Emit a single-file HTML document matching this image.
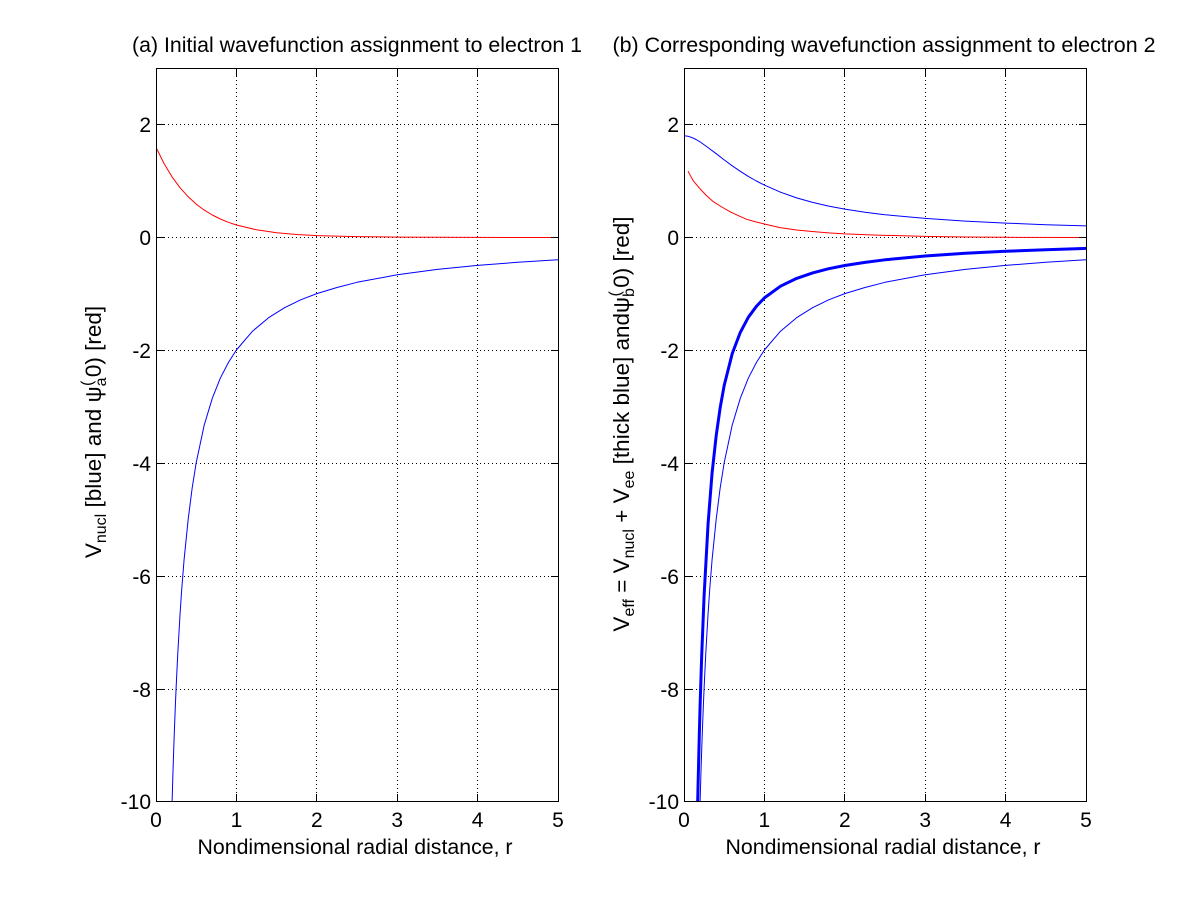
<!DOCTYPE html>
<html>
<head>
<meta charset="utf-8">
<style>
  html, body { margin:0; padding:0; background:#ffffff; }
  svg { display:block; }
  text { font-family: "Liberation Sans", Arial, sans-serif; fill:#000; }
</style>
</head>
<body>
<svg width="1200" height="900" viewBox="0 0 1200 900" xmlns="http://www.w3.org/2000/svg">
  <defs>
    <clipPath id="cl"><rect x="156" y="68" width="403" height="734"/></clipPath>
    <clipPath id="cr"><rect x="684" y="68" width="403" height="734"/></clipPath>
  </defs>
  <rect width="1200" height="900" fill="#ffffff"/>

  <!-- ================= LEFT AXES ================= -->
  <g shape-rendering="crispEdges" stroke="#000" stroke-width="1" fill="none">
    <path stroke-dasharray="1,3" d="M236.5,68 V801 M316.5,68 V801 M397.5,68 V801 M477.5,68 V801
      M156,124.5 H558 M156,237.5 H558 M156,350.5 H558 M156,463.5 H558 M156,576.5 H558 M156,689.5 H558"/>
  </g>

  <g clip-path="url(#cl)" fill="none" stroke-linejoin="round">
    <polyline stroke="#ff0000" stroke-width="1" points="156,147.2 164,163.5 172.1,176.9 180.1,187.8 188.2,196.8 196.2,204.1 204.2,210.1 212.3,215.0 220.3,219.0 228.4,222.3 236.4,225.0 256.5,229.8 276.6,232.7 296.7,234.5 316.8,235.6 357,236.6 397.2,237.1 477.6,237.4 558,237.5"/>
    <polyline stroke="#0000ff" stroke-width="1" points="172.1,802 172.9,774.2 173.7,749.7 174.5,727.5 175.3,707.0 176.1,688.2 177.7,654.8 180.1,613.1 181.7,589.6 184.1,559.4 188.2,519.1 192.2,487.8 196.2,462.7 204.2,425.1 212.3,398.3 220.3,378.2 228.4,362.5 236.4,350.0 252.5,331.2 268.6,317.7 284.6,307.7 300.7,299.8 316.8,293.6 337,287.5 357,282.3 397.2,274.8 437.4,269.4 477.6,265.4 517.8,262.3 558,259.8"/>
  </g>

  <g shape-rendering="crispEdges" stroke="#000" stroke-width="1" fill="none">
    <rect x="156.5" y="68.5" width="402" height="733"/>
    <path d="M236.5,801 v-7 M316.5,801 v-7 M397.5,801 v-7 M477.5,801 v-7
             M236.5,69 v7 M316.5,69 v7 M397.5,69 v7 M477.5,69 v7
             M157,124.5 h7 M157,237.5 h7 M157,350.5 h7 M157,463.5 h7 M157,576.5 h7 M157,689.5 h7
             M558,124.5 h-7 M558,237.5 h-7 M558,350.5 h-7 M558,463.5 h-7 M558,576.5 h-7 M558,689.5 h-7"/>
  </g>

  <g font-size="21" text-anchor="end">
    <text x="151" y="132">2</text>
    <text x="151" y="245">0</text>
    <text x="151" y="358">-2</text>
    <text x="151" y="471">-4</text>
    <text x="151" y="584">-6</text>
    <text x="151" y="697">-8</text>
    <text x="151" y="809">-10</text>
  </g>
  <g font-size="21" text-anchor="middle">
    <text x="156" y="827">0</text>
    <text x="236.5" y="827">1</text>
    <text x="316.8" y="827">2</text>
    <text x="397.2" y="827">3</text>
    <text x="477.6" y="827">4</text>
    <text x="558" y="827">5</text>
  </g>
  <text x="357" y="52" font-size="21" text-anchor="middle" textLength="450" lengthAdjust="spacingAndGlyphs">(a) Initial wavefunction assignment to electron 1</text>
  <text x="355" y="854" font-size="21" text-anchor="middle" textLength="315" lengthAdjust="spacingAndGlyphs">Nondimensional radial distance, r</text>
  <text transform="translate(101,432) rotate(-90)" font-size="22.5" text-anchor="middle">V<tspan font-size="16" dy="5">nucl</tspan><tspan dy="-5"> [blue] and ψ</tspan><tspan font-size="16" dy="5">a</tspan><tspan font-size="16" dx="-8.5" dy="-14">(</tspan><tspan dx="3.5" dy="9">0) [red]</tspan></text>

  <!-- ================= RIGHT AXES ================= -->
  <g shape-rendering="crispEdges" stroke="#000" stroke-width="1" fill="none">
    <path stroke-dasharray="1,3" d="M764.5,68 V801 M844.5,68 V801 M925.5,68 V801 M1005.5,68 V801
      M684,124.5 H1086 M684,237.5 H1086 M684,350.5 H1086 M684,463.5 H1086 M684,576.5 H1086 M684,689.5 H1086"/>
  </g>

  <g clip-path="url(#cr)" fill="none" stroke-linejoin="round">
    <polyline stroke="#0000ff" stroke-width="1" points="684,135.7 688,136.2 692,137.6 696.1,139.5 700.1,141.9 708.1,147.6 716.2,153.7 724.2,159.9 732.2,165.8 740.3,171.3 748.3,176.4 756.4,181.0 764.4,185.1 780.5,192.2 796.6,197.9 812.6,202.4 828.7,206.1 844.8,209.1 865,212.2 885,214.7 925.2,218.4 965.4,221.1 1005.6,223.1 1045.8,224.7 1086,225.9"/>
    <polyline stroke="#ff0000" stroke-width="1" points="688,171.2 690.4,175.7 693.3,180.8 700.1,188.9 706.5,195.6 713.3,201.7 721.8,207.0 730,211.7 738.7,215.8 746.7,219.3 755.6,221.9 764.4,224.0 780,227.6 796.6,230.0 813.4,231.6 828.7,232.9 844.8,233.9 880.2,235.2 925.2,236.4 965.4,237.0 1005.6,237.3 1086,237.5"/>
    <polyline stroke="#0000ff" stroke-width="1" points="700.1,802 700.9,774.2 701.7,749.7 702.5,727.5 703.3,707.0 704.1,688.2 705.7,654.8 708.1,613.1 709.7,589.6 712.1,559.4 716.2,519.1 720.2,487.8 724.2,462.7 732.2,425.1 740.3,398.3 748.3,378.2 756.4,362.5 764.4,350.0 780.5,331.2 796.6,317.7 812.6,307.7 828.7,299.8 844.8,293.6 865,287.5 885,282.3 925.2,274.8 965.4,269.4 1005.6,265.4 1045.8,262.3 1086,259.8"/>
    <polyline stroke="#0000ff" stroke-width="3" points="697.6,805 698.5,767.3 699.3,734.8 700.1,705.7 701.7,655.5 704.1,595.7 708.1,523.4 712.1,472.8 716.2,435.6 720.2,407.5 724.2,385.4 732.2,353.7 740.3,332.4 748.3,317.3 756.4,306.3 764.4,297.9 780.5,286.2 796.6,278.4 812.6,272.9 828.7,268.7 844.8,265.5 865,262.4 885,259.8 925.2,256.0 965.4,253.3 1005.6,251.3 1045.8,249.7 1088,248.4"/>
  </g>

  <g shape-rendering="crispEdges" stroke="#000" stroke-width="1" fill="none">
    <rect x="684.5" y="68.5" width="402" height="733"/>
    <path d="M764.5,801 v-7 M844.5,801 v-7 M925.5,801 v-7 M1005.5,801 v-7
             M764.5,69 v7 M844.5,69 v7 M925.5,69 v7 M1005.5,69 v7
             M685,124.5 h7 M685,237.5 h7 M685,350.5 h7 M685,463.5 h7 M685,576.5 h7 M685,689.5 h7
             M1086,124.5 h-7 M1086,237.5 h-7 M1086,350.5 h-7 M1086,463.5 h-7 M1086,576.5 h-7 M1086,689.5 h-7"/>
  </g>

  <g font-size="21" text-anchor="end">
    <text x="679" y="132">2</text>
    <text x="679" y="245">0</text>
    <text x="679" y="358">-2</text>
    <text x="679" y="471">-4</text>
    <text x="679" y="584">-6</text>
    <text x="679" y="697">-8</text>
    <text x="679" y="809">-10</text>
  </g>
  <g font-size="21" text-anchor="middle">
    <text x="684" y="827">0</text>
    <text x="764.4" y="827">1</text>
    <text x="844.8" y="827">2</text>
    <text x="925.2" y="827">3</text>
    <text x="1005.6" y="827">4</text>
    <text x="1086" y="827">5</text>
  </g>
  <text x="884" y="52" font-size="21" text-anchor="middle" textLength="543" lengthAdjust="spacingAndGlyphs">(b) Corresponding wavefunction assignment to electron 2</text>
  <text x="883" y="854" font-size="21" text-anchor="middle" textLength="315" lengthAdjust="spacingAndGlyphs">Nondimensional radial distance, r</text>
  <text transform="translate(629,424) rotate(-90)" font-size="22.5" text-anchor="middle">V<tspan font-size="16" dy="5">eff</tspan><tspan dy="-5"> = V</tspan><tspan font-size="16" dy="5">nucl</tspan><tspan dy="-5"> + V</tspan><tspan font-size="16" dy="5">ee</tspan><tspan dy="-5"> [thick blue] andψ</tspan><tspan font-size="16" dy="5">b</tspan><tspan font-size="16" dx="-8.5" dy="-14">(</tspan><tspan dx="3.5" dy="9">0) [red]</tspan></text>
</svg>
</body>
</html>
